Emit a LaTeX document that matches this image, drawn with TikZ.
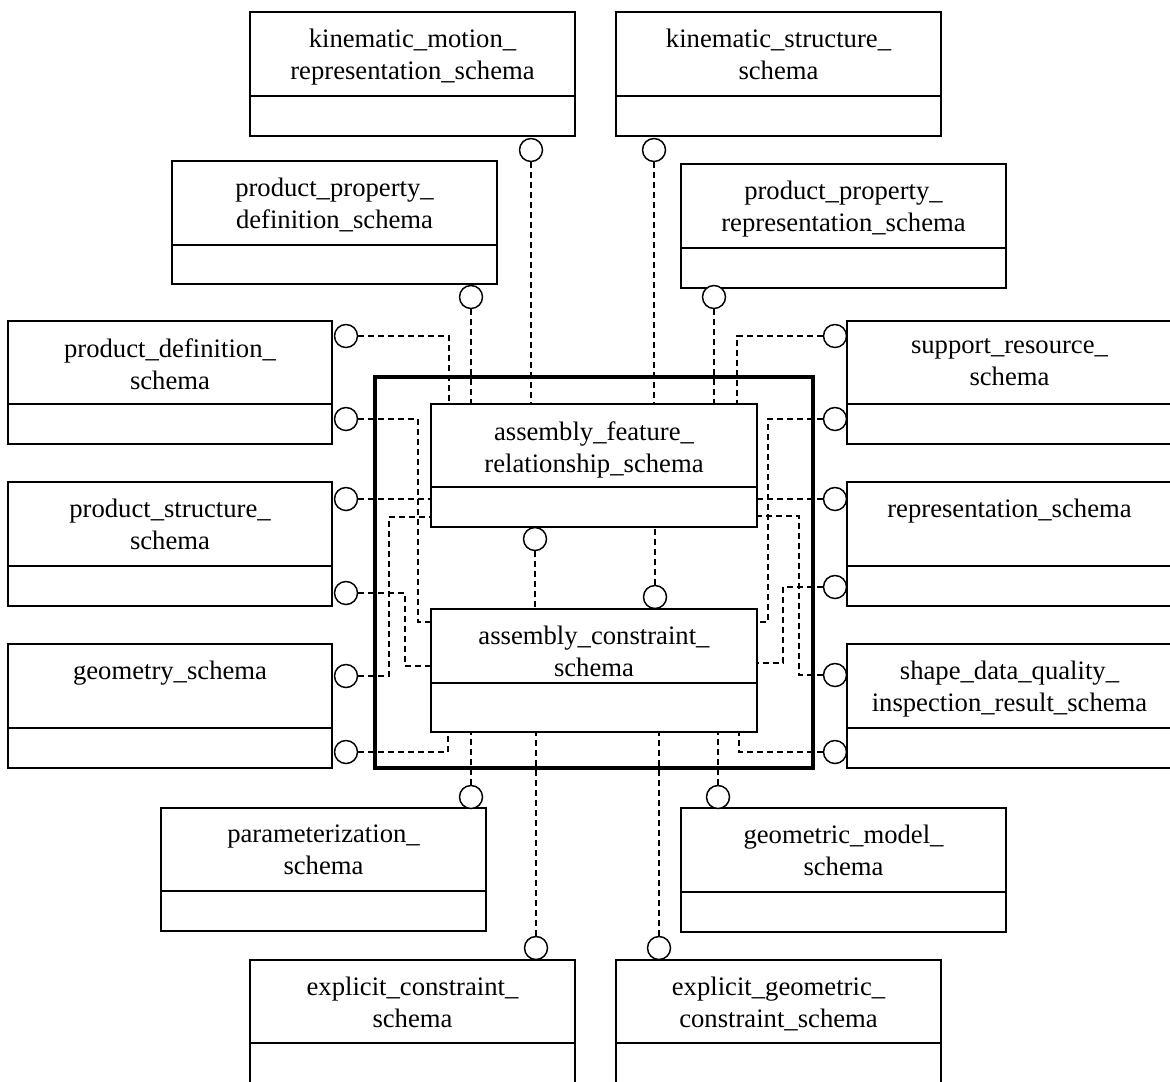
\documentclass[tikz,border=0pt]{standalone}
\usepackage{fontspec}
\setmainfont{Liberation Serif}
\usetikzlibrary{calc}
\def\pxu{0.75pt}
\tikzset{
  boxline/.style={line width=1.5pt},
  umlbox/.style={draw, line width=1.5pt, rectangle, inner sep=0pt, outer sep=0pt, anchor=north west},
  umltext/.style={anchor=north, inner sep=0pt, align=center, font=\fontsize{20}{24}\selectfont},
  port/.style={draw, circle, line width=1.1pt, fill=white, minimum size=23*\pxu, inner sep=0pt},
  conn/.style={line width=1.8pt, dash pattern=on 4.5pt off 3pt},
  frame/.style={draw, line width=3.4pt, rectangle, inner sep=0pt, outer sep=0pt, anchor=north west}
}
\newcommand{\umlbox}[7]{% name, x, top, width, height, divider, text
  \node[umlbox, minimum width=#4*\pxu, minimum height=#5*\pxu] (#1) at (#2,#3) {};
  \draw[boxline] ([yshift=-#6*\pxu]#1.north west) -- ([yshift=-#6*\pxu]#1.north east);
  \node[umltext] (#1-t) at ([yshift=-17*\pxu]#1.north) {#7};
}
\begin{document}
\begin{tikzpicture}[x=0.75pt, y=-0.75pt]
\useasboundingbox (0,0) rectangle (1170,1081);
\clip (0,0) rectangle (1170,1081);
\node[frame, minimum width=438*\pxu, minimum height=391*\pxu] (frame) at (375,377) {};
\umlbox{kmr}{250}{12}{325}{124}{84}{kinematic\_motion\_\\representation\_schema}
\umlbox{ks}{616}{12}{325}{124}{84}{kinematic\_structure\_\\schema}
\umlbox{ppd}{172}{161}{325}{123}{84}{product\_property\_\\definition\_schema}
\umlbox{ppr}{681}{164}{325}{124}{84}{product\_property\_\\representation\_schema}
\umlbox{pd}{8}{321}{324}{123}{83}{product\_definition\_\\schema}
\umlbox{sr}{847}{321}{325}{123}{83}{support\_resource\_\\schema}
\umlbox{ps}{8}{482}{324}{124}{84}{product\_structure\_\\schema}
\umlbox{rs}{847}{482}{325}{124}{84}{representation\_schema}
\umlbox{gs}{8}{644}{324}{124}{84}{geometry\_schema}
\umlbox{sdq}{847}{644}{325}{124}{84}{shape\_data\_quality\_\\inspection\_result\_schema}
\umlbox{par}{161}{808}{325}{123}{83}{parameterization\_\\schema}
\umlbox{gm}{681}{808}{325}{124}{84}{geometric\_model\_\\schema}
\umlbox{ec}{250}{960}{325}{130}{83}{explicit\_constraint\_\\schema}
\umlbox{egc}{616}{960}{325}{130}{83}{explicit\_geometric\_\\constraint\_schema}
\umlbox{afr}{431}{404}{326}{123}{83}{assembly\_feature\_\\relationship\_schema}
\umlbox{ac}{431}{609}{326}{123}{74}{assembly\_constraint\_\\schema}
% ports
\node[port] (p-kmr) at (531,150) {};
\node[port] (p-ks) at (654,150) {};
\node[port] (p-ppd) at (471,297) {};
\node[port] (p-ppr) at (714,297) {};
\node[port] (p-pd1) at (346,336) {};
\node[port] (p-pd2) at (346,419) {};
\node[port] (p-ps1) at (346,499) {};
\node[port] (p-ps2) at (346,593) {};
\node[port] (p-gs1) at (346,676) {};
\node[port] (p-gs2) at (346,752) {};
\node[port] (p-sr1) at (835,336) {};
\node[port] (p-sr2) at (835,419) {};
\node[port] (p-rs1) at (835,499) {};
\node[port] (p-rs2) at (835,587) {};
\node[port] (p-sdq1) at (835,675) {};
\node[port] (p-sdq2) at (835,752) {};
\node[port] (p-par) at (471,797) {};
\node[port] (p-gm) at (718,797) {};
\node[port] (p-ec) at (536,948) {};
\node[port] (p-egc) at (659,948) {};
\node[port] (p-afr) at (535,539) {};
\node[port] (p-ac) at (655,597) {};
% connectors
\draw[conn] (p-kmr) -- (p-kmr |- afr.north);
\draw[conn] (p-ks) -- (p-ks |- afr.north);
\draw[conn] (p-ppd) -- (p-ppd |- afr.north);
\draw[conn] (p-ppr) -- (p-ppr |- afr.north);
\draw[conn] (p-pd1) -| ([xshift=18*\pxu]afr.north west);
\draw[conn] (p-pd2) -| ([xshift=-13*\pxu,yshift=-13*\pxu]ac.north west) -- ([yshift=-13*\pxu]ac.north west);
\draw[conn] (p-ps1) -- (p-ps1 -| afr.west);
\draw[conn] (p-ps2) -| ([xshift=-26*\pxu,yshift=-57*\pxu]ac.north west) -- ([yshift=-57*\pxu]ac.north west);
\draw[conn] (p-gs1) -| ([xshift=-42*\pxu,yshift=-113*\pxu]afr.north west) -- ([yshift=-113*\pxu]afr.north west);
\draw[conn] (p-gs2) -| ([xshift=17*\pxu]ac.south west);
\draw[conn] (p-par) -- (p-par |- ac.south);
\draw[conn] (p-ec) -- (p-ec |- ac.south);
\draw[conn] (p-egc) -- (p-egc |- ac.south);
\draw[conn] (p-gm) -- (p-gm |- ac.south);
\draw[conn] (p-sdq2) -| ([xshift=-18*\pxu]ac.south east);
\draw[conn] (p-sdq1) -| ([xshift=42*\pxu,yshift=-112*\pxu]afr.north east) -- ([yshift=-112*\pxu]afr.north east);
\draw[conn] (p-rs2) -| ([xshift=26*\pxu,yshift=-54*\pxu]ac.north east) -- ([yshift=-54*\pxu]ac.north east);
\draw[conn] (p-rs1) -- (p-rs1 -| afr.east);
\draw[conn] (p-sr2) -| ([xshift=11*\pxu,yshift=-13*\pxu]ac.north east) -- ([yshift=-13*\pxu]ac.north east);
\draw[conn] (p-sr1) -| ([xshift=-20*\pxu]afr.north east);
\draw[conn] (p-afr) -- (p-afr |- ac.north);
\draw[conn] (p-ac) -- (p-ac |- afr.south);
\end{tikzpicture}
\end{document}
